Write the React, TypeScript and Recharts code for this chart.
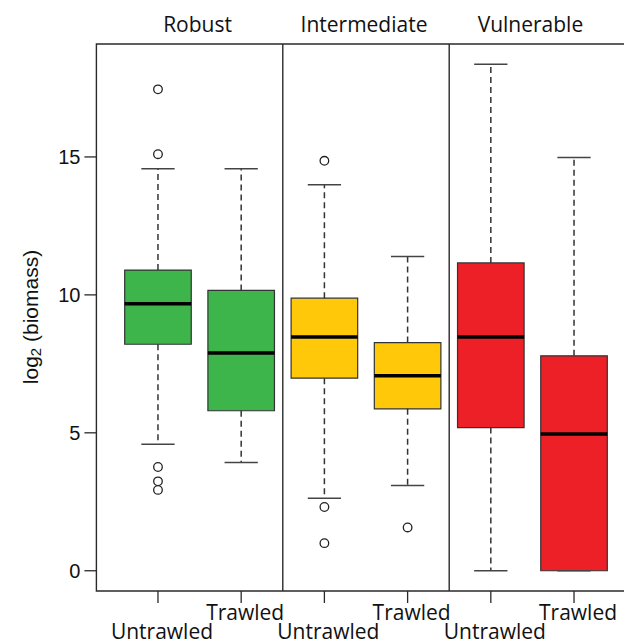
import React from "react";
import {
  ComposedChart,
  XAxis,
  YAxis,
  Scatter,
  ReferenceArea,
  ReferenceLine,
} from "recharts";

/* ── Data ─────────────────────────────────────────────────── */

const groups = ["Robust", "Intermediate", "Vulnerable"];
const groupCentres = [1.5, 3.5, 5.5];
const dividers = [2.5, 4.5];

const treatments = ["Untrawled", "Trawled", "Untrawled", "Trawled", "Untrawled", "Trawled"];
const positions = [1, 2, 3, 4, 5, 6];

const whiskerLow = [4.59, 3.92, 2.63, 3.09, 0, 0];
const q1 = [8.21, 5.8, 6.98, 5.87, 5.19, 0];
const median = [9.68, 7.89, 8.47, 7.07, 8.47, 4.96];
const q3 = [10.9, 10.16, 9.88, 8.27, 11.16, 7.79];
const whiskerHigh = [14.57, 14.57, 13.99, 11.39, 18.36, 14.98];
const outliers: number[][] = [
  [17.45, 15.1, 3.76, 3.24, 2.93],
  [],
  [14.86, 2.31, 1.0],
  [1.57],
  [],
  [],
];

const boxColours = ["#3db54a", "#3db54a", "#ffc90a", "#ffc90a", "#ed2027", "#ed2027"];
const yTicks = [0, 5, 10, 15];

/* ── Layout helpers ───────────────────────────────────────── */

const X_DOMAIN: [number, number] = [0.26, 6.74];
const Y_DOMAIN: [number, number] = [-0.734, 19.094];
const BOX_HALF = 0.4;
const CAP_HALF = 0.2;
const LINE = "#2a2a2a";
const LABEL_FONT = "'Open Sans', 'Noto Sans', sans-serif";
const AXIS_FONT = "'Liberation Sans', Arial, sans-serif";

const outlierPoints = outliers.flatMap((vals, i) =>
  vals.map((v) => ({ x: positions[i], y: v }))
);

function BottomTick({ x, y, payload }: any) {
  const i = positions.indexOf(payload.value);
  const lower = i % 2 === 0;
  return (
    <text
      x={x + 4}
      y={y + (lower ? 34 : 15)}
      textAnchor="middle"
      fontFamily={LABEL_FONT}
      fontSize={21}
      fill="#111"
    >
      {treatments[i]}
    </text>
  );
}

function TopTick({ x, y, payload }: any) {
  const i = groupCentres.indexOf(payload.value);
  return (
    <text
      x={x - 2}
      y={y - 12}
      textAnchor="middle"
      fontFamily={LABEL_FONT}
      fontSize={21}
      fill="#111"
    >
      {groups[i]}
    </text>
  );
}

function YLabel() {
  const cx = 22;
  const cy = 309;
  return (
    <text
      x={cx}
      y={cy}
      transform={`rotate(-90, ${cx}, ${cy})`}
      textAnchor="middle"
      dominantBaseline="central"
      fontFamily={AXIS_FONT}
      fontSize={21}
      fill="#111"
    >
      log
      <tspan fontSize={15} dy={5}>
        2
      </tspan>
      <tspan dy={-5}> (biomass)</tspan>
    </text>
  );
}

function OutlierDot({ cx, cy }: any) {
  return <circle cx={cx} cy={cy} r={4.3} fill="#fff" stroke="#222" strokeWidth={1.3} />;
}

/* ── Chart ────────────────────────────────────────────────── */

export default function App() {
  return (
    <div style={{ width: 624, height: 636, overflow: "hidden", background: "#fff" }}>
      <ComposedChart
        width={640}
        height={636}
        data={outlierPoints}
        margin={{ top: 0, right: 12.4, bottom: 0, left: 0 }}
      >
        <XAxis
          xAxisId="top"
          orientation="top"
          type="number"
          dataKey="x"
          domain={X_DOMAIN}
          allowDataOverflow
          ticks={groupCentres}
          height={36}
          axisLine={false}
          tickLine={false}
          tickSize={0}
          tickMargin={0}
          tick={<TopTick />}
        />
        <XAxis
          type="number"
          dataKey="x"
          domain={X_DOMAIN}
          allowDataOverflow
          ticks={positions}
          height={53}
          axisLine={false}
          tickSize={12}
          tickMargin={2}
          tickLine={{ stroke: LINE, strokeWidth: 1.3 }}
          tick={<BottomTick />}
        />
        <YAxis
          type="number"
          dataKey="y"
          domain={Y_DOMAIN}
          allowDataOverflow
          ticks={yTicks}
          width={88.4}
          axisLine={false}
          tickSize={12}
          tickMargin={4}
          tickLine={{ stroke: LINE, strokeWidth: 1.3 }}
          tick={{ fill: "#111", fontSize: 20, fontFamily: AXIS_FONT }}
          label={<YLabel />}
        />

        {/* plot frame and group dividers */}
        <ReferenceArea
          x1={X_DOMAIN[0]}
          x2={X_DOMAIN[1]}
          y1={Y_DOMAIN[0]}
          y2={Y_DOMAIN[1]}
          fill="none"
          stroke={LINE}
          strokeWidth={1.4}
          ifOverflow="visible"
        />
        {dividers.map((d) => (
          <ReferenceLine key={d} x={d} stroke={LINE} strokeWidth={1.4} />
        ))}

        {/* whiskers */}
        {positions.map((p, i) => (
          <ReferenceLine
            key={`wh${i}`}
            segment={[{ x: p, y: q3[i] }, { x: p, y: whiskerHigh[i] }]}
            stroke="#333"
            strokeWidth={1.5}
            strokeDasharray="6 4"
          />
        ))}
        {positions.map((p, i) => (
          <ReferenceLine
            key={`wl${i}`}
            segment={[{ x: p, y: q1[i] }, { x: p, y: whiskerLow[i] }]}
            stroke="#333"
            strokeWidth={1.5}
            strokeDasharray="6 4"
          />
        ))}
        {positions.map((p, i) => (
          <ReferenceLine
            key={`ch${i}`}
            segment={[{ x: p - CAP_HALF, y: whiskerHigh[i] }, { x: p + CAP_HALF, y: whiskerHigh[i] }]}
            stroke="#444"
            strokeWidth={1.5}
          />
        ))}
        {positions.map((p, i) => (
          <ReferenceLine
            key={`cl${i}`}
            segment={[{ x: p - CAP_HALF, y: whiskerLow[i] }, { x: p + CAP_HALF, y: whiskerLow[i] }]}
            stroke="#444"
            strokeWidth={1.5}
          />
        ))}

        {/* boxes */}
        {positions.map((p, i) => (
          <ReferenceArea
            key={`b${i}`}
            x1={p - BOX_HALF}
            x2={p + BOX_HALF}
            y1={q1[i]}
            y2={q3[i]}
            fill={boxColours[i]}
            fillOpacity={1}
            stroke="#333"
            strokeWidth={1.2}
          />
        ))}

        {/* medians */}
        {positions.map((p, i) => (
          <ReferenceLine
            key={`m${i}`}
            segment={[{ x: p - BOX_HALF, y: median[i] }, { x: p + BOX_HALF, y: median[i] }]}
            stroke="#000"
            strokeWidth={3.5}
          />
        ))}

        <Scatter dataKey="y" shape={<OutlierDot />} isAnimationActive={false} />
      </ComposedChart>
    </div>
  );
}
